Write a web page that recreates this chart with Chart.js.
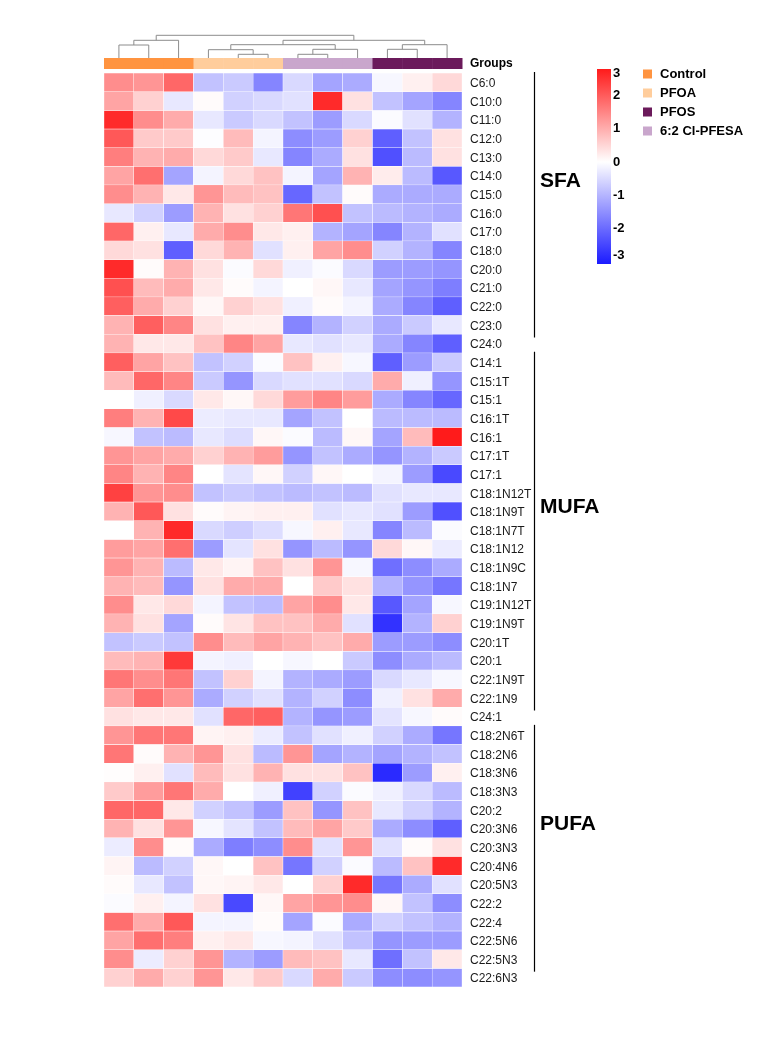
<!DOCTYPE html>
<html>
<head>
<meta charset="utf-8">
<script src="https://cdn.jsdelivr.net/npm/chart.js@4/dist/chart.umd.min.js"></script>
<style>
  body { margin: 0; background: #fff; }
  #heat { display: block; }
</style>
</head>
<body>
<canvas id="heat" width="782" height="1058"></canvas>
<script>
// sample columns, in the order given by the clustering
var columns = ['Control 1', 'Control 2', 'Control 3', 'PFOA 1', 'PFOA 2', 'PFOA 3',
               'Cl-PFESA 1', 'Cl-PFESA 2', 'Cl-PFESA 3', 'PFOS 1', 'PFOS 2', 'PFOS 3'];
var columnGroup = ['Control', 'Control', 'Control', 'PFOA', 'PFOA', 'PFOA',
                   '6:2 Cl-PFESA', '6:2 Cl-PFESA', '6:2 Cl-PFESA', 'PFOS', 'PFOS', 'PFOS'];

var legendGroups = ['Control', 'PFOA', 'PFOS', '6:2 Cl-PFESA'];
var groupColors = ['#ff9440', '#ffcd9c', '#6b1a5b', '#c9a6cc'];

// column dendrogram: [left node, right node, height]; leaves are 0..11, merges are 12..
var merges = [
  [0, 1, 13], [12, 2, 17.7],
  [4, 5, 3.7], [3, 14, 8.3],
  [6, 7, 3.7], [16, 8, 8.7],
  [15, 17, 13.3],
  [9, 10, 8.7], [19, 11, 13.3],
  [18, 20, 17.7],
  [13, 21, 22.7]
];

var sfaRows = ['C6:0', 'C10:0', 'C11:0', 'C12:0', 'C13:0', 'C14:0', 'C15:0', 'C16:0',
               'C17:0', 'C18:0', 'C20:0', 'C21:0', 'C22:0', 'C23:0', 'C24:0'];
var sfaValues = [
  [1.5, 1.4, 2.0, -0.8, -0.7, -1.6, -0.5, -1.2, -1.1, -0.1, 0.2, 0.5],
  [1.2, 0.6, -0.3, 0.05, -0.6, -0.5, -0.4, 2.8, 0.4, -0.8, -1.2, -1.6],
  [2.8, 1.5, 1.1, -0.3, -0.7, -0.5, -0.8, -1.3, -0.5, -0.05, -0.4, -1.0],
  [2.2, 0.7, 0.7, -0.02, 0.9, -0.15, -1.5, -1.3, 0.6, -2.1, -0.8, 0.4],
  [1.7, 1.0, 1.1, 0.5, 0.7, -0.3, -1.6, -1.1, 0.4, -2.3, -0.9, 0.4],
  [1.2, 1.9, -1.2, -0.15, 0.5, 0.8, -0.15, -1.2, 1.0, 0.25, -0.9, -2.2],
  [1.5, 1.0, 0.3, 1.4, 0.9, 0.8, -2.0, -0.8, 0.05, -1.1, -1.1, -1.1],
  [-0.3, -0.6, -1.3, 1.0, 0.4, 0.6, 1.8, 2.3, -0.8, -0.9, -1.0, -1.1],
  [2.0, 0.2, -0.3, 1.1, 1.5, 0.3, 0.2, -1.0, -1.2, -1.6, -1.0, -0.4],
  [0.5, 0.4, -2.1, 0.5, 1.0, -0.4, 0.2, 1.2, 1.5, -0.6, -1.0, -1.6],
  [2.8, 0.05, 1.0, 0.4, -0.05, 0.5, -0.2, -0.05, -0.5, -1.3, -1.3, -1.4],
  [2.3, 0.9, 1.1, 0.3, 0.05, -0.15, 0.0, 0.1, -0.3, -1.2, -1.4, -1.7],
  [2.1, 1.1, 0.6, 0.1, 0.6, 0.4, -0.2, 0.05, -0.15, -1.1, -1.6, -2.1],
  [1.0, 2.1, 1.6, 0.4, 0.2, 0.2, -1.6, -1.0, -0.6, -1.1, -0.7, -0.3],
  [1.0, 0.3, 0.3, 0.8, 1.6, 1.2, -0.3, -0.4, -0.3, -1.1, -1.6, -2.1]
];

var mufaRows = ['C14:1', 'C15:1T', 'C15:1', 'C16:1T', 'C16:1', 'C17:1T', 'C17:1',
                'C18:1N12T', 'C18:1N9T', 'C18:1N7T', 'C18:1N12', 'C18:1N9C', 'C18:1N7',
                'C19:1N12T', 'C19:1N9T', 'C20:1T', 'C20:1', 'C22:1N9T', 'C22:1N9', 'C24:1'];
var mufaValues = [
  [2.1, 1.2, 0.8, -0.8, -0.6, -0.05, 0.8, 0.2, -0.1, -2.1, -1.3, -0.7],
  [0.9, 2.0, 1.6, -0.7, -1.4, -0.5, -0.4, -0.4, -0.5, 1.1, -0.2, -1.4],
  [0.0, -0.2, -0.5, 0.3, 0.1, 0.5, 1.3, 1.6, 1.3, -1.1, -1.6, -2.0],
  [1.7, 1.0, 2.4, -0.25, -0.3, -0.3, -1.2, -0.8, 0.0, -0.9, -0.9, -0.9],
  [-0.1, -0.8, -0.9, -0.3, -0.45, 0.1, -0.05, -0.9, 0.1, -1.2, 0.9, 3.0],
  [1.4, 1.2, 1.1, 0.6, 1.0, 1.3, -1.4, -0.8, -1.1, -1.4, -1.0, -0.7],
  [1.6, 1.0, 1.6, 0.0, -0.35, 0.1, -0.6, 0.1, 0.0, -0.15, -1.3, -2.4],
  [2.5, 1.4, 1.5, -0.8, -0.7, -0.8, -0.9, -0.8, -0.9, -0.4, -0.3, -0.3],
  [1.0, 2.2, 0.4, 0.05, 0.15, 0.2, 0.2, -0.4, -0.3, -0.4, -1.3, -2.3],
  [0.0, 1.0, 2.8, -0.5, -0.65, -0.45, -0.1, 0.2, -0.3, -1.6, -0.9, -0.05],
  [1.3, 1.2, 1.9, -1.3, -0.35, 0.4, -1.4, -0.9, -1.4, 0.5, 0.1, -0.25],
  [1.4, 1.0, -0.9, 0.3, 0.15, 0.8, 0.4, 1.4, -0.1, -1.9, -1.5, -1.1],
  [1.0, 0.9, -1.4, 0.4, 1.1, 1.1, 0.0, 0.7, 0.4, -1.0, -1.4, -1.8],
  [1.5, 0.3, 0.5, -0.15, -0.8, -0.9, 1.2, 1.5, 0.3, -2.2, -1.2, -0.1],
  [1.0, 0.4, -1.2, 0.05, 0.35, 0.8, 0.8, 1.1, -0.4, -2.7, -1.0, 0.6],
  [-0.8, -0.7, -0.8, 1.5, 0.9, 1.2, 1.0, 0.8, 1.1, -1.3, -1.3, -1.5],
  [0.9, 1.0, 2.6, -0.15, -0.2, 0.0, -0.1, 0.0, -0.7, -1.5, -1.1, -0.9],
  [1.8, 1.5, 1.8, -0.8, 0.6, -0.15, -1.0, -1.1, -1.3, -0.5, -0.3, -0.1],
  [1.2, 1.9, 1.4, -1.1, -0.6, -0.4, -1.0, -0.6, -1.5, -0.2, 0.4, 1.1],
  [0.4, 0.3, 0.3, -0.4, 2.0, 2.1, -1.0, -1.4, -1.3, -0.35, -0.1, 0.05]
];

var pufaRows = ['C18:2N6T', 'C18:2N6', 'C18:3N6', 'C18:3N3', 'C20:2', 'C20:3N6', 'C20:3N3',
                'C20:4N6', 'C20:5N3', 'C22:2', 'C22:4', 'C22:5N6', 'C22:5N3', 'C22:6N3'];
var pufaValues = [
  [1.4, 1.8, 1.8, 0.15, 0.2, -0.25, -0.8, -0.4, -0.2, -0.6, -1.1, -1.8],
  [1.8, 0.05, 1.0, 1.4, 0.4, -0.9, 1.4, -1.2, -1.0, -1.2, -1.0, -0.8],
  [0.02, 0.2, -0.4, 0.9, 0.4, 1.0, 0.4, 0.4, 0.8, -2.8, -1.3, 0.2],
  [0.7, 1.3, 1.8, 1.1, 0.0, -0.2, -2.5, -0.6, -0.05, -0.2, -0.5, -0.9],
  [2.0, 2.0, 0.3, -0.6, -0.8, -1.3, 0.8, -1.4, 0.8, -0.3, -0.6, -1.0],
  [1.0, 0.4, 1.4, -0.1, -0.35, -0.8, 0.9, 1.2, 0.7, -1.1, -1.5, -2.1],
  [-0.25, 1.5, 0.05, -1.1, -1.7, -1.5, 1.5, -0.4, 1.4, -0.4, 0.05, 0.4],
  [0.15, -0.9, -0.6, 0.1, 0.0, 0.8, -1.8, -0.6, -0.05, -0.9, 0.8, 2.8],
  [0.05, -0.3, -0.8, 0.1, 0.15, 0.3, 0.0, 0.6, 2.8, -1.8, -1.1, -0.4],
  [-0.05, 0.2, -0.15, 0.4, -2.4, 0.1, 1.2, 1.4, 1.5, 0.1, -0.8, -1.5],
  [1.9, 1.1, 2.2, -0.15, -0.15, 0.05, -1.2, -0.05, -1.1, -0.6, -0.8, -1.0],
  [1.2, 1.9, 1.7, 0.2, 0.3, -0.1, -0.15, -0.4, -0.8, -1.4, -1.3, -1.3],
  [1.5, -0.25, 0.6, 1.4, -1.0, -1.3, 0.9, 0.8, -0.3, -1.9, -0.8, 0.3],
  [0.6, 1.1, 0.6, 1.4, 0.3, 0.7, -0.5, 1.1, -0.7, -1.5, -1.5, -1.4]
];

var classNames = ['SFA', 'MUFA', 'PUFA'];
var colorTicks = [3, 2, 1, 0, -1, -2, -3];

var rowLabels = sfaRows.concat(mufaRows, pufaRows);
var values = sfaValues.concat(mufaValues, pufaValues);
var classSizes = [sfaRows.length, mufaRows.length, pufaRows.length];

function heatColor(v) {
  var t = Math.min(Math.abs(v), 3) / 3;
  var fade = Math.round(255 - 228 * t);
  if (v >= 0) return 'rgb(255,' + fade + ',' + fade + ')';
  return 'rgb(' + fade + ',' + fade + ',255)';
}

// each heatmap row is one stacked dataset of unit-height cells
var datasets = values.map(function(row, r) {
  return {
    label: rowLabels[r],
    data: row.map(function() { return 1; }),
    backgroundColor: row.map(heatColor),
    borderColor: '#ffffff',
    borderWidth: 0.5,
    borderSkipped: false,
    barPercentage: 1,
    categoryPercentage: 1
  };
});

var extras = {
  id: 'extras',
  afterDraw: function(chart) {
    var ctx = chart.ctx;
    var xs = chart.scales.x;
    var area = chart.chartArea;
    var cellW = (area.right - area.left) / columns.length;
    var rowH = (area.bottom - area.top) / rowLabels.length;
    ctx.save();

    // group strip
    var stripTop = area.top - 15, stripH = 11;
    columns.forEach(function(c, i) {
      var cx = xs.getPixelForValue(i);
      ctx.fillStyle = groupColors[legendGroups.indexOf(columnGroup[i])];
      ctx.fillRect(cx - cellW / 2, stripTop, cellW + 0.5, stripH);
    });
    ctx.fillStyle = '#000';
    ctx.font = 'bold 12px "Liberation Sans", Arial, sans-serif';
    ctx.textBaseline = 'middle';
    ctx.textAlign = 'left';
    ctx.fillText('Groups', area.right + 8, stripTop + stripH / 2);

    // dendrogram
    var nodeX = columns.map(function(c, i) { return xs.getPixelForValue(i); });
    var nodeH = columns.map(function() { return 0; });
    var base = stripTop;
    ctx.strokeStyle = '#8c8c8c';
    ctx.lineWidth = 1;
    ctx.beginPath();
    merges.forEach(function(m) {
      var a = m[0], b = m[1], h = m[2];
      var yTop = base - h;
      ctx.moveTo(nodeX[a], base - nodeH[a]);
      ctx.lineTo(nodeX[a], yTop);
      ctx.lineTo(nodeX[b], yTop);
      ctx.lineTo(nodeX[b], base - nodeH[b]);
      nodeX.push((nodeX[a] + nodeX[b]) / 2);
      nodeH.push(h);
    });
    ctx.stroke();

    // class brackets
    var start = 0;
    var lineX = 534.5;
    ctx.strokeStyle = '#000';
    ctx.lineWidth = 1.2;
    classSizes.forEach(function(n, k) {
      var y0 = area.top + start * rowH - 1;
      var y1 = area.top + (start + n - 0.5) * rowH - 6;
      ctx.beginPath();
      ctx.moveTo(lineX, y0);
      ctx.lineTo(lineX, y1);
      ctx.stroke();
      ctx.fillStyle = '#000';
      ctx.font = 'bold 21px "Liberation Sans", Arial, sans-serif';
      ctx.textBaseline = 'middle';
      ctx.fillText(classNames[k], 540, (y0 + y1) / 2 - 24);
      start += n;
    });

    // colour bar
    var cbX = 597, cbW = 14, cbTop = 69, cbBot = 264, zeroY = 162;
    var grad = ctx.createLinearGradient(0, cbTop, 0, cbBot);
    grad.addColorStop(0, heatColor(3));
    grad.addColorStop((zeroY - cbTop) / (cbBot - cbTop), heatColor(0));
    grad.addColorStop(1, heatColor(-3));
    ctx.fillStyle = grad;
    ctx.fillRect(cbX, cbTop, cbW, cbBot - cbTop);
    ctx.fillStyle = '#000';
    ctx.font = 'bold 13px "Liberation Sans", Arial, sans-serif';
    colorTicks.forEach(function(v) {
      var y = Math.max(cbTop + 4, Math.min(cbBot - 9, zeroY - v * 33.3));
      ctx.fillText(String(v), cbX + cbW + 2, y);
    });

    // group legend
    legendGroups.forEach(function(g, i) {
      var y = 74 + i * 19;
      ctx.fillStyle = groupColors[i];
      ctx.fillRect(643, y - 4.5, 9, 9);
      ctx.fillStyle = '#000';
      ctx.fillText(g, 660, y);
    });
    ctx.restore();
  }
};

new Chart(document.getElementById('heat'), {
  type: 'bar',
  data: { labels: columns, datasets: datasets },
  options: {
    responsive: false,
    animation: false,
    layout: { padding: { left: 104, top: 73, bottom: 71, right: 0 } },
    plugins: { legend: { display: false }, tooltip: { enabled: false } },
    scales: {
      x: { stacked: true, display: false },
      y: { stacked: true, reverse: true, min: 0, max: rowLabels.length, display: false },
      rows: {
        type: 'category',
        position: 'right',
        labels: rowLabels,
        offset: true,
        grid: { display: false, drawTicks: false },
        border: { display: false },
        ticks: {
          autoSkip: false,
          padding: 8,
          labelOffset: 1.5,
          color: '#1a1a1a',
          font: { family: '"Liberation Sans", Arial, sans-serif', size: 12 }
        },
        afterFit: function(scale) { scale.width = 320; }
      }
    }
  },
  plugins: [extras]
});
</script>
</body>
</html>
